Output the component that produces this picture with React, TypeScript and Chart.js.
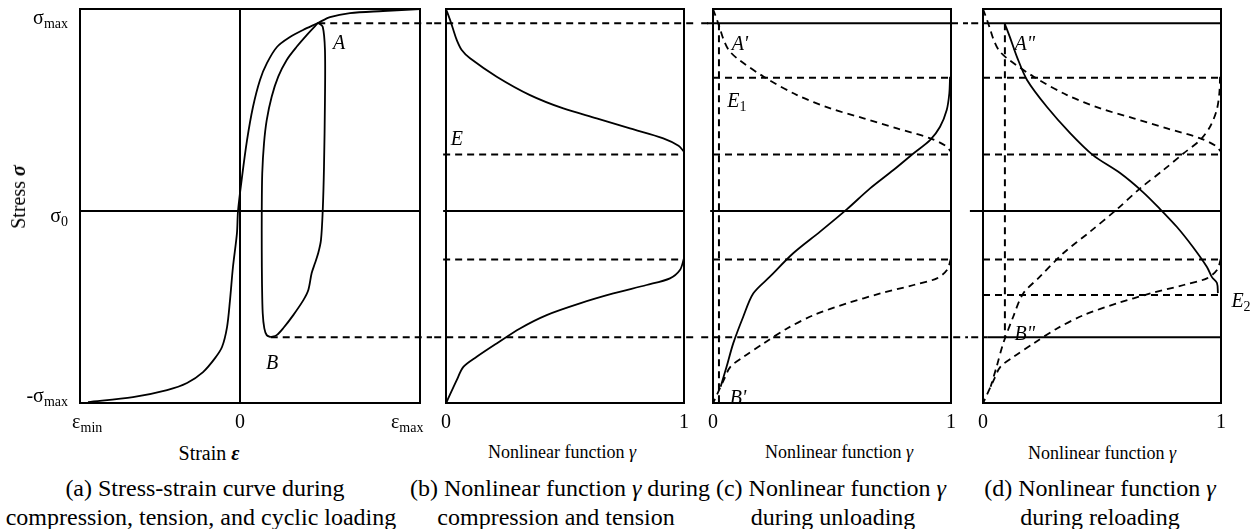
import React, { useEffect, useRef } from "react";
import { Chart, registerables } from "chart.js";
Chart.register(...registerables);

const FONT = '"Liberation Serif", "Times New Roman", serif';

// ---------- data ----------
// stress levels (normalised, sigma_max = 1)
const levelA = 0.93;
const levelE1 = 0.66;
const levelE = 0.28;
const levelZero = 0;
const levelT = -0.24;
const levelE2 = -0.415;
const levelB = -0.625;

// (a) stress-strain backbone [strain, stress]
const backbone = [
  [-0.95, -0.946], [-0.669, -0.921], [-0.456, -0.886], [-0.331, -0.851], [-0.231, -0.797],
  [-0.156, -0.728], [-0.1125, -0.673], [-0.081, -0.574], [-0.0625, -0.441], [-0.044, -0.277],
  [-0.019, -0.109], [-0.0125, 0], [0.0125, 0.168], [0.044, 0.351], [0.081, 0.515],
  [0.125, 0.649], [0.169, 0.733], [0.231, 0.812], [0.3125, 0.861], [0.394, 0.896],
  [0.4875, 0.931], [0.5625, 0.96], [0.6875, 0.98], [0.894, 0.99], [1.125, 1.0],
];
// (a) unloading branch A -> B
const unloadingLoop = [
  [0.489, 0.932], [0.517, 0.912], [0.531, 0.797], [0.531, 0.55], [0.525, 0.219],
  [0.517, 0], [0.506, -0.144], [0.489, -0.208], [0.469, -0.257], [0.448, -0.307],
  [0.427, -0.391], [0.396, -0.441], [0.333, -0.515], [0.271, -0.579], [0.229, -0.614],
  [0.192, -0.624],
];
// (a) reloading branch B -> A
const reloadingLoop = [
  [0.192, -0.624], [0.167, -0.614], [0.152, -0.581], [0.142, -0.506], [0.1375, -0.358],
  [0.136, -0.193], [0.136, 0], [0.139, 0.187], [0.15, 0.335], [0.167, 0.45],
  [0.198, 0.566], [0.239, 0.665], [0.292, 0.748], [0.354, 0.813], [0.417, 0.871],
  [0.489, 0.932],
];
// gamma curves [gamma, stress]
const gammaUpper = [
  [0, 1.0], [0.017, 0.946], [0.031, 0.896], [0.045, 0.847], [0.066, 0.797], [0.101, 0.756],
  [0.213, 0.665], [0.353, 0.574], [0.493, 0.508], [0.633, 0.459], [0.773, 0.409],
  [0.913, 0.36], [0.977, 0.323], [1.0, 0.294],
];
const gammaLower = [
  [1.0, -0.234], [0.983, -0.292], [0.941, -0.333], [0.843, -0.366], [0.703, -0.408],
  [0.563, -0.457], [0.423, -0.515], [0.311, -0.581], [0.213, -0.655], [0.129, -0.721],
  [0.073, -0.771], [0.045, -0.837], [0.003, -0.944],
];
const gammaUnloading = [
  [0.996, 0.665], [0.993, 0.583], [0.982, 0.5], [0.954, 0.417], [0.912, 0.351],
  [0.842, 0.285], [0.758, 0.203], [0.66, 0.112], [0.562, 0.008], [0.45, -0.102],
  [0.337, -0.209], [0.239, -0.325], [0.169, -0.408], [0.127, -0.523], [0.085, -0.655],
  [0.057, -0.771], [0.032, -0.87],
];
const gammaReloading = [
  [0.092, 0.926], [0.113, 0.861], [0.143, 0.762], [0.185, 0.649], [0.269, 0.515],
  [0.366, 0.386], [0.462, 0.277], [0.576, 0.188], [0.672, 0.094], [0.744, 0.01],
  [0.815, -0.079], [0.882, -0.178], [0.941, -0.277], [0.962, -0.327], [0.983, -0.356],
  [0.987, -0.406],
];
const unloadStartGamma = 0.025;

// tick labels
const strainTicks = [
  { v: -0.955, t: "ε", s: "min" },
  { v: 0, t: "0" },
  { v: 1.045, t: "ε", s: "max" },
];
const stressTicks = [
  { v: 0.96, t: "σ", s: "max" },
  { v: -0.02, t: "σ", s: "0" },
  { v: -0.91, t: "-σ", s: "max" },
];
const gammaTicks = [
  { v: 0, t: "0" },
  { v: 1, t: "1" },
];

// ---------- helpers ----------
type Tick = { v: number; t: string; s?: string };
type Note = { x: number; y: number; t: string; s?: string };

const pts = (a: number[][]) => a.map(([x, y]) => ({ x, y }));

const curve = (a: number[][], dashed = false) => ({
  data: pts(a),
  showLine: true,
  borderColor: "#000",
  borderWidth: 1.8,
  borderDash: dashed ? [7, 5] : [],
  pointRadius: 0,
  tension: 0.3,
  fill: false,
  clip: false as any,
});

const seg = (x0: number, y0: number, x1: number, y1: number, dashed = false) => ({
  data: [{ x: x0, y: y0 }, { x: x1, y: y1 }],
  showLine: true,
  borderColor: "#000",
  borderWidth: 2,
  borderDash: dashed ? [7, 5] : [],
  pointRadius: 0,
  tension: 0,
  fill: false,
  clip: false as any,
});

function drawSub(
  ctx: CanvasRenderingContext2D, text: string, sub: string | undefined,
  cx: number, cy: number, size: number, italic: boolean, align: "center" | "right" | "left"
) {
  const f = `${italic ? "italic " : ""}${size}px ${FONT}`;
  const fs = `${Math.round(size * 0.7)}px ${FONT}`;
  ctx.font = f;
  const w1 = ctx.measureText(text).width;
  ctx.font = fs;
  const w2 = sub ? ctx.measureText(sub).width : 0;
  const total = w1 + w2;
  const x0 = align === "center" ? cx - total / 2 : align === "right" ? cx - total : cx;
  ctx.textAlign = "left";
  ctx.textBaseline = "alphabetic";
  ctx.fillStyle = "#000";
  const base = cy + size * 0.33;
  ctx.font = f;
  ctx.fillText(text, x0, base);
  if (sub) {
    ctx.font = fs;
    ctx.fillText(sub, x0 + w1, base + size * 0.2);
  }
}

function decoPlugin(xTicks: Tick[], yTicks: Tick[], notes: Note[]) {
  return {
    id: "deco",
    afterDraw(chart: any) {
      const { ctx, chartArea: a, scales } = chart;
      ctx.save();
      ctx.strokeStyle = "#000";
      ctx.lineWidth = 2;
      ctx.setLineDash([]);
      ctx.strokeRect(a.left, a.top, a.right - a.left, a.bottom - a.top);
      for (const t of xTicks) {
        drawSub(ctx, t.t, t.s, scales.x.getPixelForValue(t.v), a.bottom + 18, 20, false, "center");
      }
      for (const t of yTicks) {
        drawSub(ctx, t.t, t.s, a.left - 12, scales.y.getPixelForValue(t.v), 20, false, "right");
      }
      for (const n of notes) {
        drawSub(ctx, n.t, n.s, scales.x.getPixelForValue(n.x), scales.y.getPixelForValue(n.y), 20, true, "center");
      }
      ctx.restore();
    },
  };
}

type PanelProps = {
  left: number;
  width: number;
  padLeft: number;
  padRight: number;
  xMin: number;
  xMax: number;
  datasets: any[];
  xTicks: Tick[];
  yTicks?: Tick[];
  notes: Note[];
};

const CANVAS_H = 440;

function Panel(p: PanelProps) {
  const ref = useRef<HTMLCanvasElement>(null);
  useEffect(() => {
    if (!ref.current) return;
    const chart = new Chart(ref.current, {
      type: "scatter",
      data: { datasets: p.datasets },
      options: {
        responsive: false,
        animation: false,
        devicePixelRatio: 1,
        layout: { padding: { left: p.padLeft, right: p.padRight, top: 9, bottom: CANVAS_H - 403 } },
        plugins: { legend: { display: false }, tooltip: { enabled: false } },
        events: [],
        scales: {
          x: { type: "linear", min: p.xMin, max: p.xMax, display: false },
          y: { type: "linear", min: -0.95, max: 1, display: false },
        },
      } as any,
      plugins: [decoPlugin(p.xTicks, p.yTicks || [], p.notes)],
    });
    return () => chart.destroy();
  }, []);
  return (
    <canvas
      ref={ref}
      width={p.width}
      height={CANVAS_H}
      style={{ position: "absolute", left: p.left, top: 0, width: p.width, height: CANVAS_H, display: "block" }}
    />
  );
}

function Txt(props: { x: number; y: number; size: number; children: any; rotate?: boolean }) {
  return (
    <div
      style={{
        position: "absolute",
        left: props.x,
        top: props.y,
        transform: `translate(-50%,-50%)${props.rotate ? " rotate(-90deg)" : ""}`,
        whiteSpace: "nowrap",
        font: `${props.size}px ${FONT}`,
        color: "#000",
        lineHeight: 1,
      }}
    >
      {props.children}
    </div>
  );
}

export default function App() {
  const A = unloadingLoop[0];
  const B = reloadingLoop[0];
  const R0 = gammaReloading[0];

  const dsA = [
    seg(0, -0.95, 0, 1),
    seg(-1, levelZero, 1.125, levelZero),
    curve(backbone),
    curve(unloadingLoop),
    curve(reloadingLoop),
    seg(A[0], levelA, 1.3, levelA, true),
    seg(B[0], levelB, 1.3, levelB, true),
  ];
  const dsB = [
    seg(-0.1, levelA, 1.1, levelA, true),
    seg(-0.1, levelB, 1.1, levelB, true),
    seg(-0.012, levelE, 1, levelE, true),
    seg(-0.012, levelZero, 1, levelZero),
    seg(-0.012, levelT, 1, levelT, true),
    curve(gammaUpper),
    curve(gammaLower),
  ];
  const dsC = [
    seg(-0.1, levelA, 0, levelA, true),
    seg(-0.025, levelA, 1, levelA),
    seg(1, levelA, 1.1, levelA, true),
    seg(-0.1, levelB, 1.1, levelB, true),
    seg(0, levelE1, 1, levelE1, true),
    seg(0, levelE, 1, levelE, true),
    seg(-0.012, levelZero, 1, levelZero),
    seg(0, levelT, 1, levelT, true),
    seg(unloadStartGamma, levelA, unloadStartGamma, -0.95, true),
    curve(gammaUpper, true),
    curve(gammaLower, true),
    curve(gammaUnloading),
  ];
  const dsD = [
    seg(-0.1, levelA, 0, levelA, true),
    seg(0, levelA, 1, levelA),
    seg(-0.1, levelB, 0.02, levelB, true),
    seg(0.02, levelB, 1, levelB),
    seg(0, levelE1, 1, levelE1, true),
    seg(0, levelE, 1, levelE, true),
    seg(-0.055, levelZero, 1, levelZero),
    seg(0, levelT, 1, levelT, true),
    seg(0, levelE2, 1, levelE2, true),
    seg(R0[0], levelA, R0[0], levelB, true),
    curve(gammaUpper, true),
    curve(gammaLower, true),
    curve(gammaUnloading, true),
    curve(gammaReloading),
  ];

  const bold = { fontWeight: "bold", fontStyle: "italic" } as const;
  const it = { fontStyle: "italic" } as const;

  return (
    <div style={{ position: "absolute", left: 0, top: 0, width: 1259, height: 529, background: "#fff", overflow: "hidden" }}>
      <Panel left={0} width={432} padLeft={80} padRight={12} xMin={-1} xMax={1.125} datasets={dsA}
        xTicks={strainTicks} yTicks={stressTicks}
        notes={[{ x: 0.62, y: 0.837, t: "A" }, { x: 0.2, y: -0.748, t: "B" }]} />
      <Panel left={432} width={266} padLeft={14} padRight={14} xMin={0} xMax={1} datasets={dsB}
        xTicks={gammaTicks} notes={[{ x: 0.046, y: 0.361, t: "E" }]} />
      <Panel left={698} width={270} padLeft={15} padRight={17} xMin={0} xMax={1} datasets={dsC}
        xTicks={gammaTicks}
        notes={[
          { x: 0.113, y: 0.832, t: "A'" },
          { x: 0.1, y: 0.55, t: "E", s: "1" },
          { x: 0.105, y: -0.92, t: "B'" },
        ]} />
      <Panel left={968} width={291} padLeft={15} padRight={38} xMin={0} xMax={1} datasets={dsD}
        xTicks={gammaTicks}
        notes={[
          { x: 0.176, y: 0.832, t: 'A"' },
          { x: 0.176, y: -0.604, t: 'B"' },
          { x: 1.084, y: -0.44, t: "E", s: "2" },
        ]} />

      <Txt x={18} y={197} size={20} rotate>Stress <span style={bold}>σ</span></Txt>

      <Txt x={209} y={453} size={20}>Strain <span style={bold}>ε</span></Txt>
      <Txt x={562} y={452} size={18}>Nonlinear function <span style={it}>γ</span></Txt>
      <Txt x={839} y={452} size={18}>Nonlinear function <span style={it}>γ</span></Txt>
      <Txt x={1102} y={453} size={18}>Nonlinear function <span style={it}>γ</span></Txt>

      <Txt x={205} y={488} size={24}>(a) Stress-strain curve during</Txt>
      <Txt x={201} y={517} size={24}>compression, tension, and cyclic loading</Txt>
      <Txt x={560} y={488} size={24}>(b) Nonlinear function <span style={it}>γ</span> during</Txt>
      <Txt x={556} y={517} size={24}>compression and tension</Txt>
      <Txt x={831} y={488} size={24}>(c) Nonlinear function <span style={it}>γ</span></Txt>
      <Txt x={833} y={517} size={24}>during unloading</Txt>
      <Txt x={1100} y={488} size={24}>(d) Nonlinear function <span style={it}>γ</span></Txt>
      <Txt x={1100} y={517} size={24}>during reloading</Txt>
    </div>
  );
}
